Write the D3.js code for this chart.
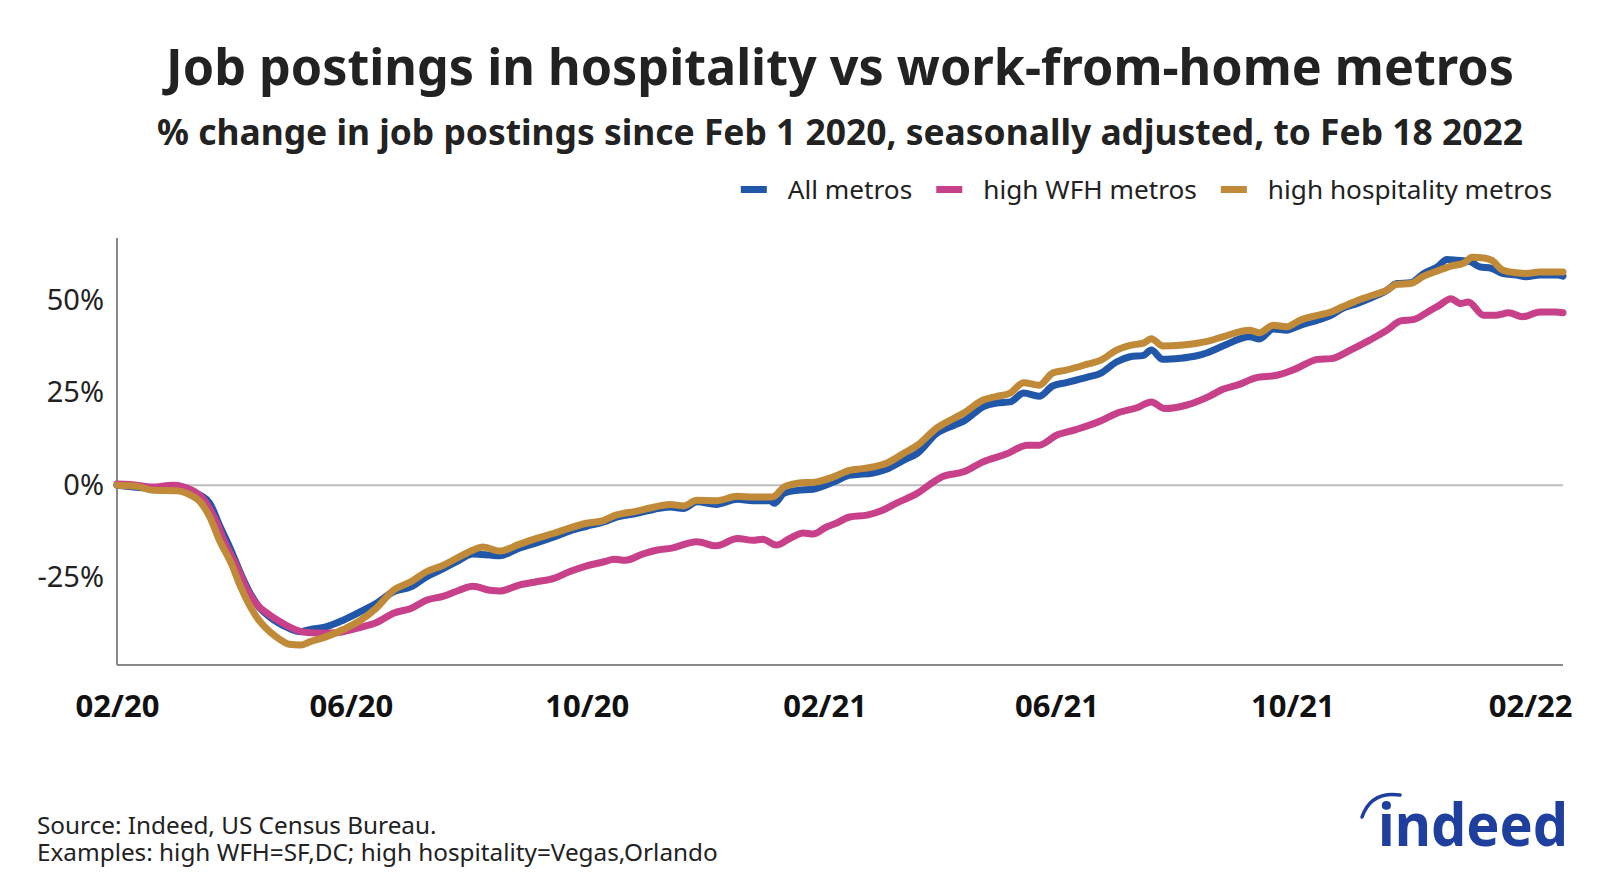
<!DOCTYPE html>
<html>
<head>
<meta charset="utf-8">
<script src="https://cdn.jsdelivr.net/npm/d3@7"></script>
<style>
  html, body { margin: 0; padding: 0; background: #fff; }
  svg { display: block; font-family: "Noto Sans", "Open Sans", sans-serif; }
</style>
</head>
<body>
<svg id="chart" width="1600" height="873"></svg>
<script>
// ---------- data ----------
const titleText = "Job postings in hospitality vs work-from-home metros";
const subtitleText = "% change in job postings since Feb 1 2020, seasonally adjusted, to Feb 18 2022";
const seriesNames = ["All metros", "high WFH metros", "high hospitality metros"];
const seriesColors = ["#2157a8", "#c8408a", "#c08a38"];
const xTickLabels = ["2020-02-01", "2020-06-01", "2020-10-01", "2021-02-01", "2021-06-01", "2021-10-01", "2022-02-01"];
const yTickValues = [-25, 0, 25, 50];
const sourceLines = ["Source: Indeed, US Census Bureau.", "Examples: high WFH=SF,DC; high hospitality=Vegas,Orlando"];

const allDates = ["2020-02-01","2020-02-20","2020-03-03","2020-03-15","2020-03-20","2020-03-25","2020-03-31","2020-04-05","2020-04-10","2020-04-15","2020-04-20","2020-04-25","2020-04-30","2020-05-06","2020-05-11","2020-05-19","2020-05-28","2020-06-06","2020-06-14","2020-06-23","2020-07-02","2020-07-10","2020-07-19","2020-07-27","2020-08-03","2020-08-12","2020-08-17","2020-08-27","2020-09-05","2020-09-14","2020-09-22","2020-10-01","2020-10-10","2020-10-15","2020-10-27","2020-11-05","2020-11-13","2020-11-20","2020-11-27","2020-12-07","2020-12-18","2020-12-26","2021-01-04","2021-01-06","2021-01-11","2021-01-18","2021-01-26","2021-02-06","2021-02-14","2021-02-18","2021-02-26","2021-03-05","2021-03-14","2021-03-21","2021-03-31","2021-04-09","2021-04-14","2021-04-24","2021-05-01","2021-05-08","2021-05-15","2021-05-23","2021-05-30","2021-06-06","2021-06-17","2021-06-24","2021-07-02","2021-07-09","2021-07-16","2021-07-20","2021-07-26","2021-08-04","2021-08-12","2021-08-18","2021-08-26","2021-09-09","2021-09-14","2021-09-21","2021-09-28","2021-10-05","2021-10-14","2021-10-21","2021-10-27","2021-11-04","2021-11-12","2021-11-19","2021-11-24","2021-12-01","2021-12-08","2021-12-15","2021-12-20","2021-12-25","2022-01-01","2022-01-06","2022-01-12","2022-01-18","2022-01-25","2022-01-30","2022-02-06","2022-02-15","2022-02-18"];
const allValues = [0,-0.8,-0.8,-2.7,-4.9,-10.8,-17.6,-23.9,-29.3,-33.3,-35.6,-37.4,-38.7,-39.6,-39,-38.3,-36.5,-34.2,-32,-28.8,-27.5,-24.8,-22.5,-20.3,-18.6,-18.9,-19.1,-17,-15.6,-14,-12.4,-11.1,-9.9,-8.9,-7.6,-6.5,-5.9,-6.3,-4.5,-5.2,-3.8,-4.2,-4.2,-4.9,-2.2,-1.4,-1.1,0.9,2.7,2.9,3.3,4.3,6.8,8.6,14,16.2,17.3,21.2,22.2,22.5,24.9,24,26.8,27.7,29.2,30.3,33.3,34.7,35.1,36.5,34,34.3,34.9,35.8,37.6,40.1,39.5,42.2,41.9,43.2,44.6,45.9,47.8,49.2,50.9,52.7,54.5,54.7,57.2,59,61,60.8,60.4,59,58.6,57.2,56.8,56.3,56.8,56.8,56.5];

const wfhDates = ["2020-02-01","2020-02-08","2020-02-19","2020-03-01","2020-03-11","2020-03-17","2020-03-23","2020-03-28","2020-04-03","2020-04-08","2020-04-13","2020-04-20","2020-04-27","2020-05-04","2020-05-11","2020-05-19","2020-05-28","2020-06-06","2020-06-14","2020-06-23","2020-07-02","2020-07-10","2020-07-19","2020-07-27","2020-08-03","2020-08-12","2020-08-17","2020-08-27","2020-09-05","2020-09-14","2020-09-22","2020-10-01","2020-10-10","2020-10-15","2020-10-21","2020-10-30","2020-11-06","2020-11-14","2020-11-27","2020-12-07","2020-12-18","2020-12-26","2020-12-31","2021-01-07","2021-01-14","2021-01-21","2021-01-26","2021-02-02","2021-02-07","2021-02-14","2021-02-23","2021-03-03","2021-03-10","2021-03-21","2021-03-27","2021-04-03","2021-04-14","2021-04-24","2021-05-06","2021-05-17","2021-05-23","2021-06-01","2021-06-11","2021-06-24","2021-07-02","2021-07-13","2021-07-20","2021-07-27","2021-08-07","2021-08-19","2021-08-26","2021-09-04","2021-09-12","2021-09-23","2021-10-03","2021-10-14","2021-10-21","2021-10-31","2021-11-10","2021-11-19","2021-11-26","2021-12-03","2021-12-10","2021-12-16","2021-12-22","2021-12-27","2021-12-31","2022-01-08","2022-01-14","2022-01-21","2022-01-28","2022-02-06","2022-02-14","2022-02-18"];
const wfhValues = [0.3,0.2,-0.5,0,-1.4,-4,-9.5,-15.7,-22,-27.9,-32,-35.1,-37.4,-39.2,-39.9,-40,-39.6,-38.4,-37.2,-34.6,-33.3,-31.1,-30,-28.4,-27.3,-28.4,-28.6,-27,-26.1,-25.2,-23.4,-21.8,-20.7,-20,-20.3,-18.6,-17.6,-17,-15.3,-16.4,-14.4,-14.9,-14.6,-16.2,-14.4,-12.9,-13.2,-11.3,-10.3,-8.6,-8.1,-6.8,-4.9,-2.2,0,2.3,3.6,6.3,8.4,10.8,10.8,13.5,15,17.4,19.4,21,22.5,20.7,21.6,24,25.9,27.3,29,29.7,31.5,34,34.2,36.5,39.2,41.9,44.4,44.8,46.8,48.6,50.4,49.1,49.5,45.9,45.9,46.6,45.5,46.8,46.8,46.6];

const hospDates = ["2020-02-01","2020-02-11","2020-02-20","2020-03-03","2020-03-10","2020-03-15","2020-03-20","2020-03-25","2020-03-31","2020-04-05","2020-04-10","2020-04-15","2020-04-20","2020-04-25","2020-04-30","2020-05-06","2020-05-11","2020-05-19","2020-05-28","2020-06-06","2020-06-14","2020-06-23","2020-07-02","2020-07-10","2020-07-19","2020-07-27","2020-08-03","2020-08-08","2020-08-17","2020-08-27","2020-09-05","2020-09-14","2020-09-22","2020-10-01","2020-10-10","2020-10-15","2020-10-27","2020-11-05","2020-11-13","2020-11-20","2020-11-27","2020-12-07","2020-12-18","2020-12-26","2021-01-04","2021-01-06","2021-01-11","2021-01-18","2021-01-28","2021-02-06","2021-02-14","2021-02-18","2021-02-26","2021-03-05","2021-03-14","2021-03-21","2021-03-31","2021-04-09","2021-04-14","2021-04-24","2021-05-01","2021-05-08","2021-05-15","2021-05-23","2021-05-30","2021-06-06","2021-06-17","2021-06-24","2021-07-02","2021-07-09","2021-07-16","2021-07-20","2021-07-26","2021-08-04","2021-08-12","2021-08-19","2021-08-26","2021-09-09","2021-09-14","2021-09-21","2021-09-28","2021-10-05","2021-10-14","2021-10-21","2021-10-27","2021-11-04","2021-11-12","2021-11-19","2021-11-24","2021-12-01","2021-12-08","2021-12-15","2021-12-22","2021-12-29","2022-01-02","2022-01-08","2022-01-12","2022-01-18","2022-01-25","2022-01-30","2022-02-06","2022-02-15","2022-02-18"];
const hospValues = [0,-0.3,-1.4,-1.5,-2.7,-4.5,-8.6,-14.9,-21,-27.5,-32.9,-36.9,-39.6,-41.6,-43,-43.2,-42.3,-41,-39,-36.5,-33.3,-28.4,-26.1,-23.4,-21.6,-19.4,-17.6,-16.7,-17.8,-16,-14.4,-13,-11.6,-10.3,-9.5,-8.3,-7,-5.9,-5.2,-5.6,-4.1,-4.2,-3,-3.2,-3.2,-3,-0.5,0.5,0.9,2.3,4,4.3,4.9,5.9,8.6,10.8,15.4,18.1,19.5,23,24,24.9,27.7,27,30.3,31.1,32.7,33.8,36.5,37.8,38.4,39.6,37.6,37.8,38.3,39,40.1,41.9,41.2,43.2,42.8,44.6,45.9,46.8,48.2,50,51.4,52.7,54.3,54.5,56.5,57.9,59.2,60.1,61.6,61.4,60.8,58.1,57.4,57.2,57.6,57.6,57.6];

// ---------- setup ----------
const parse = d3.timeParse("%Y-%m-%d");
const svg = d3.select("#chart");
const textColor = "#222";

const x = d3.scaleTime()
  .domain([parse("2020-02-01"), parse("2022-02-18")])
  .range([117, 1563]);
const y = d3.scaleLinear()
  .domain([-48.6, 66.8])
  .range([665, 238]);

// Title / subtitle
svg.append("text")
  .attr("x", 840).attr("y", 85)
  .attr("text-anchor", "middle")
  .attr("font-size", 50.3).attr("font-weight", 700)
  .attr("fill", textColor)
  .text(titleText);
svg.append("text")
  .attr("x", 840).attr("y", 145)
  .attr("text-anchor", "middle")
  .attr("font-size", 35.4).attr("font-weight", 700)
  .attr("fill", textColor)
  .text(subtitleText);

// Legend (right-aligned)
const legend = svg.append("g");
let cursor = 1552;
const legendItems = seriesNames.map((n, i) => ({ n, c: seriesColors[i] })).reverse();
legendItems.forEach(item => {
  const t = legend.append("text")
    .attr("x", cursor).attr("y", 199)
    .attr("text-anchor", "end")
    .attr("font-size", 26.2)
    .attr("fill", textColor)
    .text(item.n);
  const w = t.node().getComputedTextLength();
  const textStart = cursor - w;
  legend.append("rect")
    .attr("x", textStart - 21 - 26).attr("y", 186)
    .attr("width", 26).attr("height", 7)
    .attr("fill", item.c);
  cursor = textStart - 21 - 26 - 24;
});

// Zero gridline
svg.append("line")
  .attr("x1", x.range()[0]).attr("x2", x.range()[1])
  .attr("y1", y(0)).attr("y2", y(0))
  .attr("stroke", "#bdbdbd").attr("stroke-width", 2);

// Axes
const yAxis = d3.axisLeft(y)
  .tickValues(yTickValues)
  .tickSize(0).tickPadding(13)
  .tickFormat(d => d + "%");
const gy = svg.append("g").attr("transform", `translate(${x.range()[0]},0)`).call(yAxis);
gy.select(".domain").remove();
gy.selectAll("text").attr("font-size", 29).attr("fill", textColor)
  .attr("font-family", "'Noto Sans', 'Open Sans', sans-serif");

const xAxis = d3.axisBottom(x)
  .tickValues(xTickLabels.map(parse))
  .tickSize(0).tickPadding(30)
  .tickFormat(d3.timeFormat("%m/%y"));
const gx = svg.append("g").attr("transform", `translate(0,${y.range()[0]})`).call(xAxis);
gx.select(".domain").remove();
gx.selectAll("text").attr("font-size", 31).attr("font-weight", 700).attr("fill", "#111")
  .attr("font-family", "'Noto Sans', 'Open Sans', sans-serif");

svg.append("line")
  .attr("x1", x.range()[0]).attr("x2", x.range()[0])
  .attr("y1", y.range()[1]).attr("y2", y.range()[0])
  .attr("stroke", "#888").attr("stroke-width", 2);
svg.append("line")
  .attr("x1", x.range()[0]).attr("x2", x.range()[1])
  .attr("y1", y.range()[0]).attr("y2", y.range()[0])
  .attr("stroke", "#888").attr("stroke-width", 2);

// Lines
const line = d3.line()
  .x(d => x(d.date))
  .y(d => y(d.value))
  .curve(d3.curveMonotoneX);
const series = [
  { dates: allDates, values: allValues, color: seriesColors[0] },
  { dates: wfhDates, values: wfhValues, color: seriesColors[1] },
  { dates: hospDates, values: hospValues, color: seriesColors[2] }
];
series.forEach(s => {
  const data = s.dates.map((d, i) => ({ date: parse(d), value: s.values[i] }));
  svg.append("path")
    .datum(data)
    .attr("fill", "none")
    .attr("stroke", s.color)
    .attr("stroke-width", 7)
    .attr("stroke-linejoin", "round")
    .attr("stroke-linecap", "round")
    .attr("d", line);
});

// Footer (one text block, two lines)
const footer = svg.append("text")
  .attr("x", 37).attr("y", 834)
  .attr("font-size", 24.3).attr("fill", textColor);
sourceLines.forEach((s, i) => {
  footer.append("tspan")
    .attr("x", 37).attr("dy", i === 0 ? 0 : 27)
    .text(s);
});

// Indeed logo
const logo = svg.append("g");
logo.append("path")
  .attr("d", "M1362,817 Q1371,791 1400,795")
  .attr("fill", "none").attr("stroke", "#1f3f9f")
  .attr("stroke-width", 3.5).attr("stroke-linecap", "round");
logo.append("text")
  .attr("x", 1378).attr("y", 846)
  .attr("font-size", 60).attr("font-weight", 700)
  .attr("textLength", 190).attr("lengthAdjust", "spacingAndGlyphs")
  .attr("fill", "#1f3f9f")
  .attr("font-family", "'Noto Sans', sans-serif")
  .text("indeed");
</script>
</body>
</html>
